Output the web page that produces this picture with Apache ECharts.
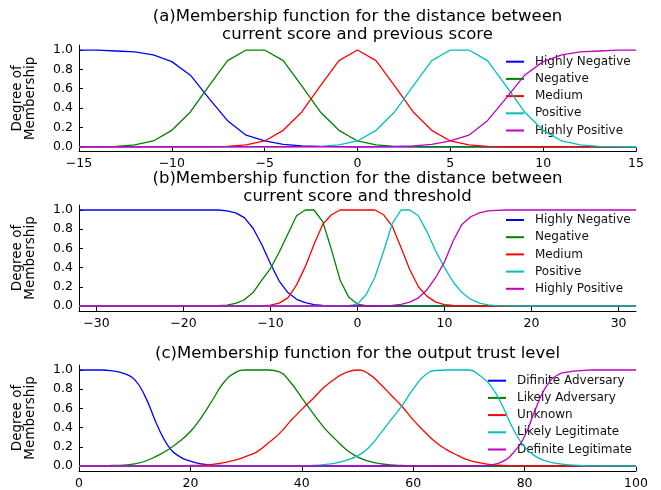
<!DOCTYPE html>
<html><head><meta charset="utf-8">
<script src="https://cdn.jsdelivr.net/npm/echarts@6/dist/echarts.min.js"></script>
<style>html,body{margin:0;padding:0;background:#fff}#c{width:661px;height:490px}</style>
</head><body><div id="c"></div>
<script>
// ---------- Panel (a): distance between current score and previous score ----------
const xA = [-15,-14,-13,-12,-11,-10,-9,-8,-7,-6,-5,-4,-3,-2,-1,0,1,2,3,4,5,6,7,8,9,10,11,12,13,14,15];
const hnA  = [1.0,1.0,0.99,0.98,0.95,0.88,0.74,0.5,0.27,0.12,0.06,0.025,0.01,0.003,0.001,0,0,0,0,0,0,0,0,0,0,0,0,0,0,0,0];
const negA = [0,0.001,0.005,0.02,0.06,0.17,0.36,0.63,0.89,1.0,1.0,0.89,0.63,0.36,0.17,0.06,0.02,0.005,0.001,0,0,0,0,0,0,0,0,0,0,0,0];
const medA = [0,0,0,0,0,0,0,0,0.005,0.02,0.06,0.17,0.36,0.63,0.89,1.0,0.89,0.63,0.36,0.17,0.06,0.02,0.005,0,0,0,0,0,0,0,0];
const posA = [0,0,0,0,0,0,0,0,0,0,0,0,0.001,0.005,0.02,0.06,0.17,0.36,0.63,0.89,1.0,1.0,0.89,0.63,0.36,0.17,0.06,0.02,0.005,0.001,0];
const hpA  = [0,0,0,0,0,0,0,0,0,0,0,0,0,0,0,0,0.001,0.003,0.01,0.025,0.06,0.12,0.27,0.5,0.74,0.88,0.95,0.98,0.99,1.0,1.0];

// ---------- Panel (b): distance between current score and threshold ----------
const xB = [-32,-31,-30,-29,-28,-27,-26,-25,-24,-23,-22,-21,-20,-19,-18,-17,-16,-15,-14,-13,-12,-11,-10,-9,-8,-7,-6,-5,-4,-3,-2,-1,0,1,2,3,4,5,6,7,8,9,10,11,12,13,14,15,16,17,18,19,20,21,22,23,24,25,26,27,28,29,30,31,32];
const hnB  = [1,1,1,1,1,1,1,1,1,1,1,1,1,1,1,1,1,0.99,0.97,0.92,0.81,0.64,0.44,0.26,0.14,0.07,0.035,0.015,0.006,0.002,0.001,0,0,0,0,0,0,0,0,0,0,0,0,0,0,0,0,0,0,0,0,0,0,0,0,0,0,0,0,0,0,0,0,0,0];
const negB = [0,0,0,0,0,0,0,0,0,0,0,0,0,0,0,0,0.003,0.01,0.028,0.065,0.14,0.27,0.39,0.56,0.75,0.94,1.0,1.0,0.88,0.59,0.27,0.09,0.02,0.004,0.001,0,0,0,0,0,0,0,0,0,0,0,0,0,0,0,0,0,0,0,0,0,0,0,0,0,0,0,0,0,0];
const medB = [0,0,0,0,0,0,0,0,0,0,0,0,0,0,0,0,0,0,0,0,0,0.002,0.008,0.03,0.085,0.22,0.41,0.64,0.85,0.95,1.0,1.0,1.0,1.0,1.0,0.95,0.83,0.61,0.38,0.2,0.1,0.04,0.015,0.005,0.002,0,0,0,0,0,0,0,0,0,0,0,0,0,0,0,0,0,0,0,0];
const posB = [0,0,0,0,0,0,0,0,0,0,0,0,0,0,0,0,0,0,0,0,0,0,0,0,0,0,0,0,0,0,0.001,0.004,0.02,0.12,0.3,0.57,0.86,1.0,1.0,0.94,0.77,0.57,0.4,0.25,0.14,0.07,0.03,0.012,0.004,0.001,0,0,0,0,0,0,0,0,0,0,0,0,0,0,0];
const hpB  = [0,0,0,0,0,0,0,0,0,0,0,0,0,0,0,0,0,0,0,0,0,0,0,0,0,0,0,0,0,0,0,0,0,0,0,0.002,0.006,0.017,0.04,0.085,0.17,0.3,0.46,0.68,0.85,0.93,0.97,0.99,0.997,1,1,1,1,1,1,1,1,1,1,1,1,1,1,1,1];

// ---------- Panel (c): output trust level ----------
const xC = [0,2,4,6,8,10,12,14,16,18,20,22,24,26,28,30,32,34,36,38,40,42,44,46,48,50,52,54,56,58,60,62,64,66,68,70,72,74,76,78,80,82,84,86,88,90,92,94,96,98,100];
const defAdvC = [1,1,1,0.99,0.965,0.9,0.71,0.43,0.21,0.1,0.05,0.022,0.01,0.004,0.001,0,0,0,0,0,0,0,0,0,0,0,0,0,0,0,0,0,0,0,0,0,0,0,0,0,0,0,0,0,0,0,0,0,0,0,0];
const likAdvC = [0,0,0.002,0.005,0.01,0.022,0.052,0.105,0.17,0.255,0.36,0.51,0.69,0.87,0.97,1.0,1.0,1.0,0.98,0.87,0.71,0.55,0.4,0.28,0.17,0.095,0.05,0.025,0.012,0.006,0.003,0.001,0,0,0,0,0,0,0,0,0,0,0,0,0,0,0,0,0,0,0];
const unknownC = [0,0,0,0,0,0,0,0,0,0,0.005,0.01,0.018,0.035,0.06,0.1,0.15,0.24,0.34,0.47,0.59,0.7,0.82,0.91,0.975,1.0,0.96,0.86,0.74,0.62,0.48,0.36,0.25,0.17,0.11,0.06,0.033,0.015,0.006,0.002,0,0,0,0,0,0,0,0,0,0,0];
const likLegC = [0,0,0,0,0,0,0,0,0,0,0,0,0,0,0,0,0,0,0,0,0.003,0.006,0.015,0.03,0.06,0.105,0.19,0.33,0.48,0.63,0.8,0.94,0.995,1,1,1,0.94,0.83,0.63,0.38,0.2,0.1,0.05,0.025,0.012,0.005,0.002,0,0,0,0];
const defLegC = [0,0,0,0,0,0,0,0,0,0,0,0,0,0,0,0,0,0,0,0,0,0,0,0,0,0,0,0,0,0,0,0,0,0,0,0,0.003,0.012,0.045,0.14,0.31,0.6,0.84,0.95,0.98,0.993,1,1,1,1,1];

const namesAB = ['Highly Negative','Negative','Medium','Positive','Highly Positive'];
const namesC = ['Difinite Adversary','Likely Adversary','Unknown','Likely Legitimate','Definite Legitimate'];
const xTicksA = [-15,-10,-5,0,5,10,15];
const xTicksB = [-30,-20,-10,0,10,20,30];
const xTicksC = [0,20,40,60,80,100];
const yTicks = [0,0.2,0.4,0.6,0.8,1.0];

const colors = ['#0000ff','#008000','#ff0000','#00bfbf','#bf00bf'];
const FONT = 'DejaVu Sans';
const pairs = (xs, ys) => xs.map((x, i) => [x, ys[i]]);

function xAxis(i, min, max, ticks) {
  return {
    type: 'value', gridIndex: i, min: min, max: max,
    axisLine: { show: true, onZero: false, lineStyle: { color: '#000', width: 1 } },
    axisTick: { show: true, inside: true, length: 4, customValues: ticks, lineStyle: { color: '#000' } },
    axisLabel: { customValues: ticks, color: '#000', fontSize: 12.5, fontFamily: FONT, margin: 6,
      formatter: v => v < 0 ? '\u2212' + Math.abs(v) : String(v) },
    splitLine: { show: false }
  };
}
function yAxis(i) {
  return {
    type: 'value', gridIndex: i, min: -0.05, max: 1.05,
    axisLine: { show: true, onZero: false, lineStyle: { color: '#000', width: 1 } },
    axisTick: { show: true, inside: true, length: 4, customValues: yTicks, lineStyle: { color: '#000' } },
    axisLabel: { customValues: yTicks, color: '#000', fontSize: 12.5, fontFamily: FONT, margin: 6,
      formatter: v => v.toFixed(1) },
    splitLine: { show: false },
    name: 'Degree of\nMembership', nameLocation: 'middle', nameGap: 42, nameRotate: 90,
    nameTextStyle: { fontSize: 13.5, lineHeight: 13, color: '#000', fontFamily: FONT }
  };
}
function legend(left, top, names) {
  return {
    orient: 'vertical', left: left, top: top, padding: 0, itemWidth: 18, itemHeight: 2,
    itemGap: 3.2, icon: 'rect', data: names,
    textStyle: { fontSize: 12, color: '#111', fontFamily: FONT, lineHeight: 14, padding: [0, 0, 0, 6] }
  };
}
function lines(gi, xs, arrs, names, smooth) {
  return arrs.map((ys, k) => ({
    type: 'line', name: names[k], xAxisIndex: gi, yAxisIndex: gi,
    data: pairs(xs, ys), showSymbol: false, symbol: 'none', smooth: smooth,
    lineStyle: { color: colors[k], width: 1.3 }, itemStyle: { color: colors[k] },
    z: 2 + k
  }));
}
function title(text, top) {
  return { text: text, left: 357.5, top: top, textAlign: 'center', padding: 0,
    textStyle: { fontSize: 16.5, fontWeight: 'normal', fontFamily: FONT, color: '#000', lineHeight: 18.3 } };
}

const chart = echarts.init(document.getElementById('c'));
chart.setOption({
  animation: false,
  backgroundColor: '#fff',
  title: [
    title('(a)Membership function for the distance between\ncurrent score and previous score', 7.5),
    title('(b)Membership function for the distance between\ncurrent score and threshold', 169.5),
    title('(c)Membership function for the output trust level', 345)
  ],
  grid: [
    { left: 79, right: 25, top: 45.2, height: 106.4 },
    { left: 79, right: 25, top: 205.2, height: 105.6 },
    { left: 79, right: 25, top: 365.2, height: 105.6 }
  ],
  xAxis: [ xAxis(0, -15, 15, xTicksA), xAxis(1, -32, 32, xTicksB), xAxis(2, 0, 100, xTicksC) ],
  yAxis: [ yAxis(0), yAxis(1), yAxis(2) ],
  legend: [ legend(506, 54.7, namesAB), legend(506, 213, namesAB), legend(488, 373.7, namesC) ],
  series: [].concat(
    lines(0, xA, [hnA, negA, medA, posA, hpA], namesAB, false),
    lines(1, xB, [hnB, negB, medB, posB, hpB], namesAB, false),
    lines(2, xC, [defAdvC, likAdvC, unknownC, likLegC, defLegC], namesC, 0.5)
  )
});
</script></body></html>
